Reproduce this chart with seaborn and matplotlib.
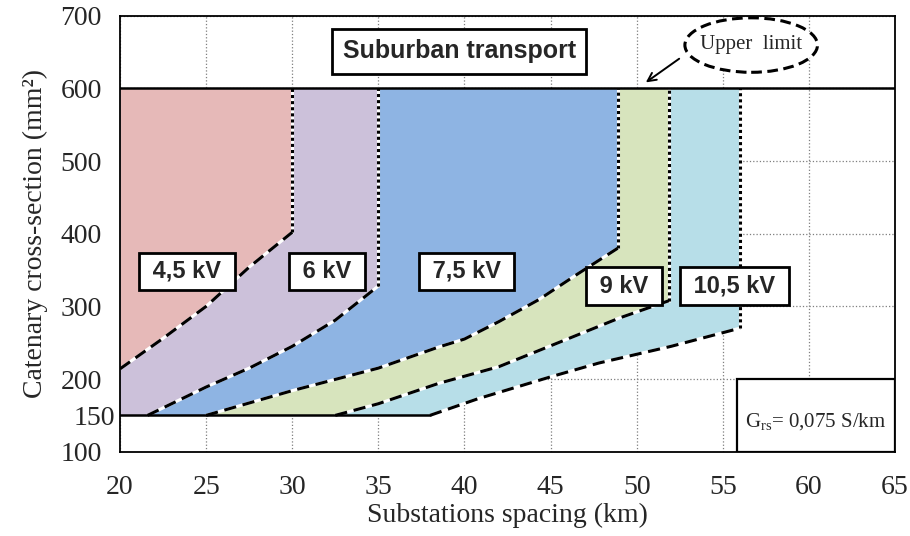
import matplotlib
matplotlib.use("Agg")
import matplotlib.pyplot as plt
from matplotlib.patches import Ellipse, Rectangle
import seaborn as sns

# Boundary curves between voltage levels: substation spacing (km) vs minimum catenary section (mm2)
spacing_45 = [20, 22.5, 25, 27.5, 30]
section_45 = [214, 256, 300, 354, 402]

spacing_6 = [21.6, 25, 27.5, 30, 32.5, 35]
section_6 = [150, 189, 215, 245, 281, 328]

spacing_75 = [25, 30, 35, 38.5, 40, 42, 44.3, 46.6, 48.9]
section_75 = [150, 184, 215, 244, 255, 279, 309, 345, 380]

spacing_9 = [32.5, 35, 38.5, 42, 44.3, 46.6, 49, 51.9]
section_9 = [150, 166, 194, 217, 239, 261, 284, 308]

spacing_105 = [38, 40.8, 45, 47.8, 52, 56]
section_105 = [150, 173, 203, 222, 245, 270]

voltage_labels = ["4,5 kV", "6 kV", "7,5 kV", "9 kV", "10,5 kV"]
region_colors = ["#E6B9B8", "#CCC1DA", "#8EB4E3", "#D7E4BD", "#B7DEE8"]

section_min = 150
section_max = 600
x_ticks = [20, 25, 30, 35, 40, 45, 50, 55, 60, 65]
y_ticks = [100, 200, 300, 400, 500, 600, 700]
y_minor_ticks = [150]

sns.set_style("white")
plt.rcParams["font.family"] = ["Liberation Serif", "DejaVu Serif"]
plt.rcParams["mathtext.fontset"] = "custom"
plt.rcParams["mathtext.rm"] = "Liberation Serif"
plt.rcParams["mathtext.it"] = "Liberation Serif:italic"

fig = plt.figure(figsize=(9.1, 5.36), dpi=100)
ax = fig.add_axes([0.1319, 0.1573, 0.8516, 0.8134])
ax.set_xlim(20, 65)
ax.set_ylim(100, 700)

curves = [
    (spacing_45, section_45),
    (spacing_6, section_6),
    (spacing_75, section_75),
    (spacing_9, section_9),
    (spacing_105, section_105),
]

# Layered fills: highest voltage first, each filling from its lower boundary up to the limit
for (xs, ys), color in reversed(list(zip(curves, region_colors))):
    if xs[0] > 20:
        fx = [20] + list(xs)
        fy = [section_min] + list(ys)
    else:
        fx, fy = list(xs), list(ys)
    ax.fill_between(fx, fy, section_max, color=color, lw=0, zorder=1)

# Dashed boundary curves (white underlay between the dashes)
for xs, ys in curves:
    sns.lineplot(x=xs, y=ys, ax=ax, color="white", lw=2.2, sort=False,
                 estimator=None, zorder=3)
    sns.lineplot(x=xs, y=ys, ax=ax, color="black", lw=2.2, sort=False,
                 estimator=None, linestyle=(0, (4, 2.2)), zorder=4)
    # dotted vertical edge up to the section limit
    ax.plot([xs[-1], xs[-1]], [ys[-1], section_max], color="white", lw=2.2, zorder=3)
    ax.plot([xs[-1], xs[-1]], [ys[-1], section_max], color="black", lw=2.2,
            linestyle=(0, (1, 1)), zorder=4)

# Lower and upper section limits
ax.plot([20, spacing_105[0]], [section_min, section_min], color="black", lw=1.8, zorder=4)
ax.axhline(section_max, color="black", lw=1.8, zorder=4)

# Axes, ticks and grid
ax.set_xticks(x_ticks)
ax.set_yticks(y_ticks)
ax.set_yticks(y_minor_ticks, minor=True)
ax.set_yticklabels([str(v) for v in y_minor_ticks], minor=True)
ax.set_axisbelow(True)
ax.grid(True, which="major", linestyle=":", color="#7f7f7f", lw=0.9)
ax.grid(False, which="minor")
ax.tick_params(axis="both", which="both", length=0, labelsize=20)
ax.tick_params(axis="x", pad=17)
ax.tick_params(axis="y", pad=13)
for sp in ax.spines.values():
    sp.set_color("black")
    sp.set_linewidth(1.3)
    sp.set_zorder(6)

ax.set_xlabel("Substations spacing (km)", fontsize=20, labelpad=2)
ax.set_ylabel("Catenary cross-section (mm²)", fontsize=20, labelpad=9)

# Voltage labels
label_pos = [(23.88, 348), (32.0, 348), (40.12, 348), (49.26, 328), (55.7, 328)]
for text, (lx, ly) in zip(voltage_labels, label_pos):
    ax.text(lx, ly, " " + text + " ", ha="center", va="center", fontsize=17,
            fontweight="bold", family=["Liberation Sans", "DejaVu Sans"], zorder=8,
            bbox=dict(boxstyle="square,pad=0.3", fc="white", ec="black", lw=2))

ax.text(39.7, 651, "Suburban transport", ha="center", va="center", fontsize=18,
        fontweight="bold", family=["Liberation Sans", "DejaVu Sans"], zorder=8,
        bbox=dict(boxstyle="square,pad=0.42", fc="white", ec="black", lw=2))

# Upper limit callout
ax.add_patch(Ellipse((56.65, 659.6), 7.7, 75, fc="white", ec="black", lw=2.2,
                     linestyle=(0, (3.5, 1.8)), zorder=7))
ax.text(56.65, 661, "Upper  limit", ha="center", va="center", fontsize=15, zorder=8)
ax.annotate("", xy=(50.4, 606), xytext=(52.6, 643), zorder=8,
            arrowprops=dict(arrowstyle="->,head_length=0.6,head_width=0.3",
                            color="black", lw=1.4))

# Conductance note
ax.add_patch(Rectangle((55.8, 100), 9.2, 100, fc="white", ec="black", lw=1.6, zorder=7))
ax.text(60.4, 141, r"G$_{\mathrm{rs}}$= 0,075 S/km", ha="center", va="center",
        fontsize=15, zorder=8)

fig.savefig("out.png", dpi=100)
